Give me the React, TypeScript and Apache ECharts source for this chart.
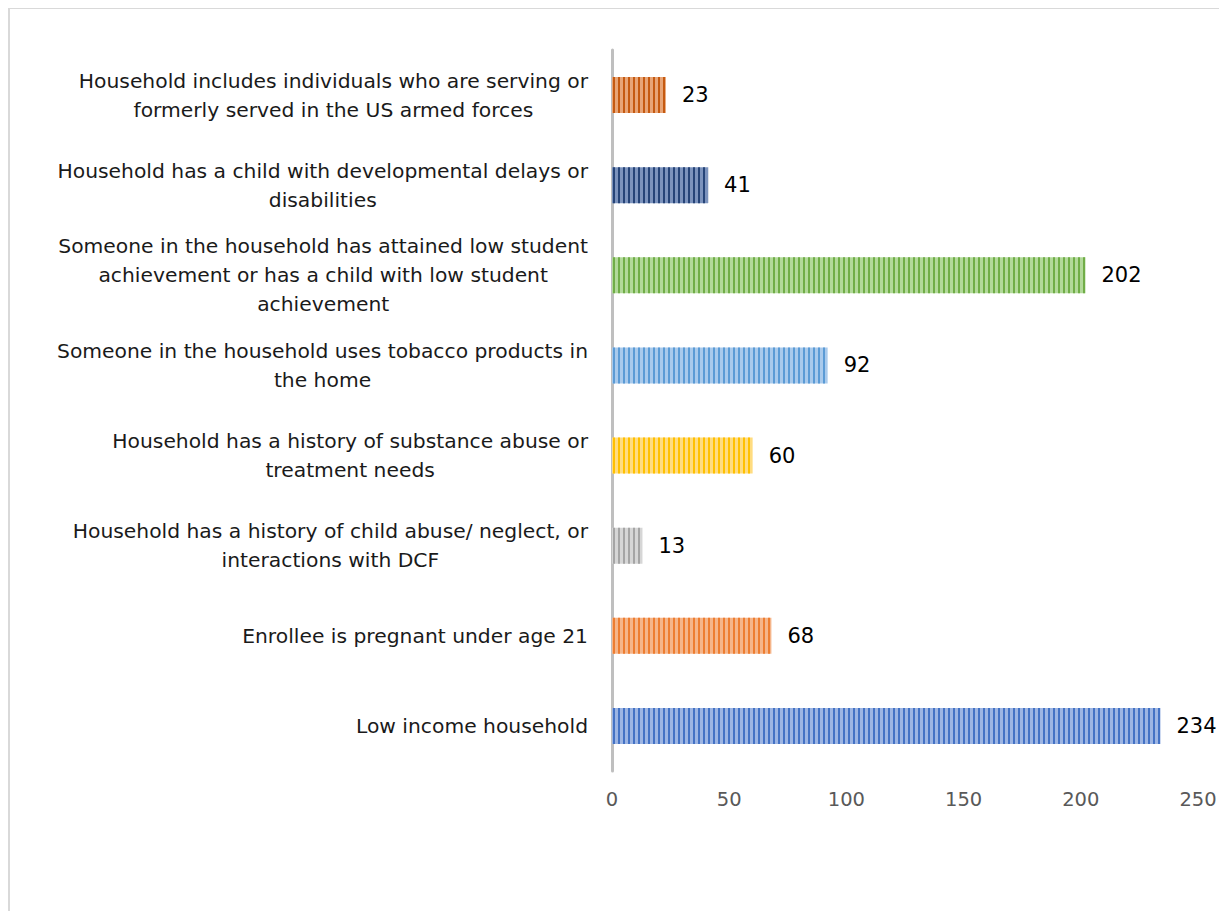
import React, { useEffect, useRef } from "react";
import * as echarts from "echarts";

const categories: string[] = [
  "Low income household",
  "Enrollee is pregnant under age 21",
  "Household has a history of child abuse/ neglect, or\ninteractions with DCF",
  "Household has a history of substance abuse or\ntreatment needs",
  "Someone in the household uses tobacco products in\nthe home",
  "Someone in the household has attained low student\nachievement or has a child with low student\nachievement",
  "Household has a child with developmental delays or\ndisabilities",
  "Household includes individuals who are serving or\nformerly served in the US armed forces",
];
const values: number[] = [234, 68, 13, 60, 92, 202, 41, 23];
const stripeColors: string[] = ["#4472C4", "#ED7D31", "#A5A5A5", "#FFC000", "#5B9BD5", "#70AD47", "#264478", "#C55A11"];
const fillColors: string[] = ["#9DB5E3", "#F5B58A", "#D6D6D6", "#FFDC80", "#A9CAEC", "#B2D99A", "#7C93BD", "#E8A577"];
const xTicks = { min: 0, max: 250, interval: 50 };

export default function App() {
  const ref = useRef<HTMLDivElement>(null);
  useEffect(() => {
    if (!ref.current) return;
    const chart = echarts.init(ref.current, null, { renderer: "svg" });
    const font = "'DejaVu Sans', sans-serif";
    chart.setOption({
      animation: false,
      backgroundColor: "#ffffff",
      grid: { left: 602, top: 41, width: 586, height: 721, containLabel: false },
      xAxis: {
        type: "value",
        min: xTicks.min,
        max: xTicks.max,
        interval: xTicks.interval,
        axisLine: { show: false },
        axisTick: { show: false },
        splitLine: { show: false },
        axisLabel: { color: "#595959", fontSize: 19.5, fontFamily: font, margin: 18 },
      },
      yAxis: {
        type: "category",
        data: categories,
        axisLine: { show: true, lineStyle: { color: "#BFBFBF", width: 3 } },
        axisTick: { show: false },
        axisLabel: {
          color: "#1a1a1a",
          fontSize: 20.3,
          fontFamily: font,
          margin: 24,
          lineHeight: 29,
          formatter: (v: string) => v.split("\n").map((l) => `{c|${l}}`).join("\n"),
          rich: { c: { align: "center", fontSize: 20.3, lineHeight: 29, fontFamily: font, color: "#1a1a1a" } },
        },
      },
      series: [
        {
          type: "bar",
          barWidth: 36,
          data: values.map((v, i) => ({
            value: v,
            itemStyle: {
              color: fillColors[i],
              decal: {
                symbol: "rect",
                dashArrayX: [1, 0],
                dashArrayY: [2, 2.4],
                rotation: Math.PI / 2,
                color: stripeColors[i],
              },
            },
          })),
          label: {
            show: true,
            position: "right",
            distance: 16,
            color: "#000000",
            fontSize: 21,
            fontFamily: font,
          },
        },
      ],
    });
    return () => chart.dispose();
  }, []);
  return (
    <div style={{ width: 1219, height: 903, borderLeft: "2px solid #D9D9D9", borderTop: "1px solid #D9D9D9", boxSizing: "border-box", overflow: "hidden" }}>
      <div ref={ref} style={{ width: 1217, height: 902 }} />
    </div>
  );
}
